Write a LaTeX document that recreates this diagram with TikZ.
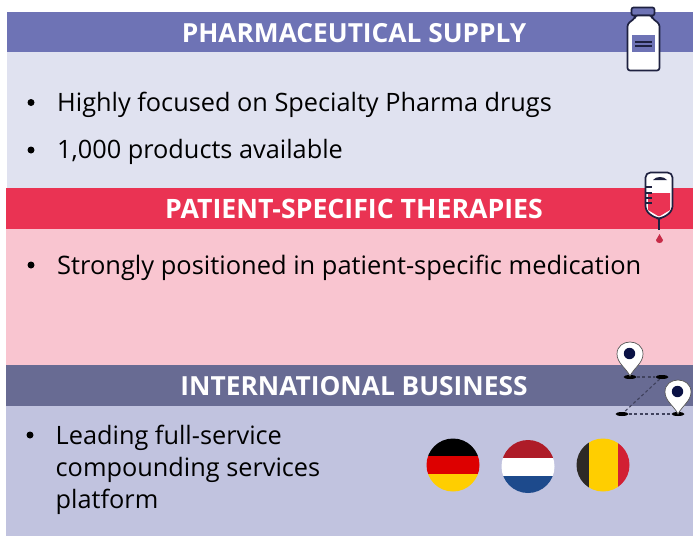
\documentclass[tikz,border=0pt]{standalone}
\usepackage{fontspec}
\usetikzlibrary{shapes.geometric}
\setmainfont{Open Sans}
\definecolor{headA}{HTML}{6E73B5}
\definecolor{bodyA}{HTML}{E0E2F0}
\definecolor{headB}{HTML}{EA3353}
\definecolor{bodyB}{HTML}{F9C5D0}
\definecolor{headC}{HTML}{686B93}
\definecolor{bodyC}{HTML}{C1C3DF}
\definecolor{ink}{HTML}{1E2140}
\definecolor{pinink}{HTML}{0B1245}
\definecolor{flagblack}{HTML}{2D2926}
\definecolor{flaggold}{HTML}{FFCE00}
\definecolor{flagred}{HTML}{DD0000}
\definecolor{nlred}{HTML}{AE1C28}
\definecolor{nlblue}{HTML}{1D4A8C}
\definecolor{bered}{HTML}{D21F33}
\tikzset{
 x=1pt,y=-1pt,
 headtext/.style={font=\fontsize{26.3}{30}\selectfont\bfseries,text=white,anchor=center,inner sep=0pt},
 bodytext/.style={font=\fontsize{25.3}{32}\selectfont,text=black,anchor=west,inner sep=0pt,align=left},
 bullet/.style={circle,fill=black,minimum size=7pt,inner sep=0pt},
 outline/.style={draw=ink,line width=1.7pt,line join=round},
 pinbase/.style={ellipse,fill=black,minimum width=13pt,minimum height=4pt,inner sep=0pt},
 route/.style={draw=ink!85,line width=1.1pt,dash pattern=on 3pt off 2.5pt},
}
\begin{document}
\begin{tikzpicture}
\useasboundingbox (0,0) rectangle (693,536);
% bands
\fill[bodyA] (7,52) rectangle (693,188);
\fill[headA] (7,12) rectangle (693,52);
\fill[bodyB] (6,229) rectangle (693,365);
\fill[headB] (6,188) rectangle (693,229);
\fill[bodyC] (6,406) rectangle (693,536);
\fill[headC] (6,365) rectangle (693,406);
% headings
\node[headtext] (h1) at (354,33) {PHARMACEUTICAL SUPPLY};
\node[headtext,font=\fontsize{26.7}{30}\selectfont\bfseries] (h2) at (354,209) {PATIENT-SPECIFIC THERAPIES};
\node[headtext] (h3) at (354,386.5) {INTERNATIONAL BUSINESS};
% bullets and text
\node[bullet] (b1) at (31,102.5) {};
\node[bodytext] (t1) at (57,104.5) {Highly focused on Specialty Pharma drugs};
\node[bullet] (b2) at (31,150) {};
\node[bodytext] (t2) at (57,152) {1,000 products available};
\node[bullet] (b3) at (31,265) {};
\node[bodytext,font=\fontsize{25.45}{32}\selectfont] (t3) at (57,267.5) {Strongly positioned in patient-specific medication};
\node[bullet] (b4) at (30,435) {};
\node[bodytext] (t4) at (55.5,470) {Leading full-service\\compounding services\\platform};
% vial
\draw[outline,fill=headA,rounded corners=2pt] (631.5,7.5) rectangle (654.5,15.5);
\draw[outline,fill=white,rounded corners=2.5pt] (635,15.5) -- (635,18) -- (627.5,24) -- (627.5,70.5) -- (659.5,70.5) -- (659.5,24) -- (652,18) -- (652,15.5) -- cycle;
\fill[headA] (632,35) rectangle (655,52);
\fill[ink] (635,41) rectangle (652,43);
\fill[ink] (635,45) rectangle (652,47);
% iv bag
\draw[outline,fill=white,rounded corners=5pt] (645.5,172.5) -- (672.5,172.5) -- (672.5,211) -- (662,218.5) -- (656,218.5) -- (645.5,211) -- cycle;
\fill[headB] (648,193) -- (670,193) -- (670,210) -- (660,216) -- (658,216) -- (648,210) -- cycle;
\fill[ink] (653,180) -- (667,180) .. controls (664,176) and (656,176) .. (653,180) -- cycle;
\draw[ink,line width=1.4pt] (646,187) -- (652,187) (646,193) -- (652,193) (646,198) -- (652,198) (646,203) -- (652,203);
\draw[ink,line width=1.8pt] (659,218) -- (659,230);
\fill[headB!85!black] (659.5,234) .. controls (660,237) and (663,238) .. (663,240) .. controls (663,244) and (656,244) .. (656,240) .. controls (656,238) and (659,237) .. (659.5,234) -- cycle;
% route
\node[pinbase] (pa) at (630,377) {};
\node[pinbase] (pb) at (662,377) {};
\node[pinbase] (pc) at (622,414) {};
\node[pinbase] (pd) at (678,414) {};
\draw[route] (pa) -- (pb);
\draw[route] (pb) -- (pc);
\draw[route] (pc) -- (pd);
% pins
\foreach \px/\py in {630/377,678/415}{
 \draw[draw=black!65,line width=0.7pt,fill=white] (\px,\py-1) .. controls (\px-4,\py-9) and (\px-13,\py-14) .. (\px-13,\py-23)
   .. controls (\px-13,\py-39) and (\px+13,\py-39) .. (\px+13,\py-23)
   .. controls (\px+13,\py-14) and (\px+4,\py-9) .. (\px,\py-1) -- cycle;
 \fill[pinink] (\px-0.5,\py-23.5) circle (5.7pt);
}
% flags
\begin{scope}
\clip (453,465) circle (26.5pt);
\fill[black] (425,438) rectangle (482,456);
\fill[flagred] (425,456) rectangle (482,474);
\fill[flaggold] (425,474) rectangle (482,492);
\end{scope}
\begin{scope}
\clip (528,466.5) circle (26.5pt);
\fill[white] (500,458) rectangle (556,476);
\fill[nlred] (500,438) rectangle (556,458);
\fill[nlblue] (500,476) rectangle (556,494);
\end{scope}
\begin{scope}
\clip (603,465) circle (26.5pt);
\fill[flagblack] (575,438) rectangle (589,492);
\fill[flaggold] (589,438) rectangle (618,492);
\fill[bered] (618,438) rectangle (631,492);
\end{scope}
\end{tikzpicture}
\end{document}
